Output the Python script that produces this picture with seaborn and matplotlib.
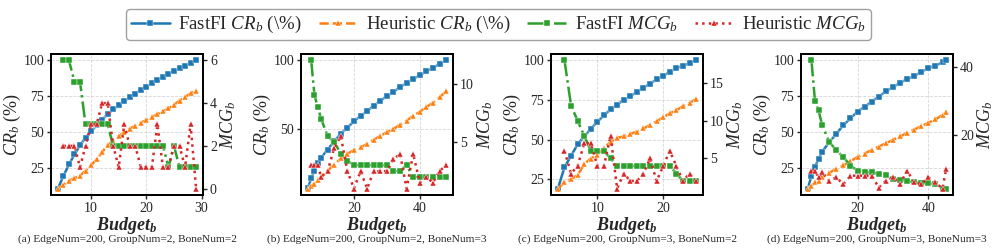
import matplotlib
matplotlib.use("Agg")
import matplotlib.pyplot as plt
import seaborn as sns
import numpy as np

# ---------------- data ----------------
a_x = list(range(4, 30))
a_fast_cr = [10.7, 19.5, 27.5, 34.5, 41, 46, 50.5, 54.8, 58.7, 62.5, 65.8, 68.8, 71.6,
             74.3, 76.9, 79.4, 81.8, 84.1, 86.3, 88.5, 90.6, 92.6, 94.5, 96.4, 98.2, 100]
a_heur_cr = [10.7, 13.5, 16, 18, 19.8, 23, 27, 31, 36, 41, 44, 47, 50, 52.5, 54.5, 56.5,
             58.5, 60.5, 62.5, 64.5, 66.5, 69, 72, 74.5, 77, 79]
a_mx = list(range(5, 30))
a_fast_mcg = [6, 6, 5, 5, 3, 3, 3, 3, 3, 2, 2, 2, 2, 2, 2, 2, 2, 2, 2, 1, 2, 1, 1, 1, 1]
a_heur_mcg = [2, 2, 2, 1, 2, 3, 3, 4, 4, 2, 1, 3, 2, 2, 1, 1, 1, 3, 1, 1, 2, 2, 1, 3, 0]

b_x = [6, 7, 8, 9, 10] + list(range(12, 49, 2))
b_fast_cr = [6.7, 14, 19.5, 25, 29, 35, 41, 46.5, 51, 55.5, 59.5, 63, 67, 70.5, 74, 77,
             80.5, 83.5, 86.5, 89, 92, 94.5, 97.5, 100]
b_heur_cr = [6.5, 8.5, 10, 12.5, 15, 19.5, 24, 28.5, 32, 34.5, 36.5, 39, 42, 45, 47.5, 50,
             53, 56, 59.5, 62.5, 66, 69, 73, 77.5]
b_mx = [7, 8, 9, 10] + list(range(12, 49, 2))
b_fast_mcg = [12, 9, 8, 7, 5.5, 5, 4, 3.4, 3, 3, 3, 3, 3, 3, 2.5, 2.5, 3, 2, 2, 2, 2, 2, 2]
b_heur_mcg = [3, 3, 3, 2, 2.5, 4.5, 5.5, 2.5, 1, 2.5, 1, 2.5, 2.5, 2.5, 3.5, 4, 1, 4, 1.5,
              2, 1.5, 2.5, 3]

c_x = list(range(4, 26))
c_fast_cr = [19, 32.5, 39.7, 47, 52, 56.7, 61.2, 65.3, 69, 72, 75, 77.4, 80, 82.8, 85.3,
             88, 90, 92.9, 95, 96.6, 98.3, 100]
c_heur_cr = [19, 23, 25, 27.5, 34.5, 38, 40.5, 44.5, 48.5, 51, 52, 53.5, 55, 57, 59, 61.5,
             64, 66.5, 68.5, 71, 73, 75.6]
c_mx = list(range(5, 26))
c_fast_mcg = [18, 12, 10, 8, 6, 6, 6, 5, 4, 4, 4, 4, 4, 4, 4, 4, 4, 3, 2, 2, 2]
c_heur_mcg = [6, 3, 4, 7, 7, 4, 4, 8, 1, 3, 2, 2, 3, 5, 2, 4, 6, 4, 2, 3, 2]

d_x = [6, 7, 8, 9, 10] + list(range(12, 45, 2)) + [45]
d_fast_cr = [10.5, 19.5, 25.5, 31.4, 36.2, 42.9, 48.6, 54.8, 59.5, 64.3, 67.6, 71.2, 74.8,
             78.3, 81.4, 84.3, 86.9, 89, 92, 94.5, 96.4, 98.6, 100]
d_heur_cr = [10.5, 12.4, 14.8, 16, 18.3, 21.4, 24.3, 26.7, 29.5, 32.6, 35, 37.4, 39.8,
             42.1, 44.5, 46.9, 49.3, 51.7, 54, 56.4, 58.8, 61.9, 64]
d_mx = [7, 8, 9, 10] + list(range(12, 45, 2)) + [45]
d_fast_mcg = [42, 30, 27.3, 23, 18, 15.5, 13.5, 11, 9.5, 9, 9, 8.5, 8.3, 7, 6.8, 6.5, 6,
              5.8, 5.8, 5.5, 4.2, 4.2]
d_heur_mcg = [9.5, 9.5, 7.5, 9, 6.5, 7.5, 5.5, 8, 8, 8, 8, 4.5, 6.5, 7.5, 5.5, 9.5, 6, 5.5,
              7.5, 6, 4.2, 10]

captions = ["(a) EdgeNum=200, GroupNum=2, BoneNum=2",
            "(b) EdgeNum=200, GroupNum=2, BoneNum=3",
            "(c) EdgeNum=200, GroupNum=3, BoneNum=2",
            "(d) EdgeNum=200, GroupNum=3, BoneNum=3"]
x_ticks = [[10, 20, 30], [20, 40], [10, 20], [20, 40]]
left_ticks = [[25, 50, 75, 100], [50, 100], [25, 50, 75, 100], [25, 50, 75, 100]]
right_ticks = [[0, 2, 4, 6], [5, 10], [5, 10, 15], [20, 40]]
series_labels = [r"FastFI $CR_b$ (\%)", r"Heuristic $CR_b$ (\%)",
                 r"FastFI $MCG_b$", r"Heuristic $MCG_b$"]

panels = [
    (a_x, a_fast_cr, a_heur_cr, a_mx, a_fast_mcg, a_heur_mcg),
    (b_x, b_fast_cr, b_heur_cr, b_mx, b_fast_mcg, b_heur_mcg),
    (c_x, c_fast_cr, c_heur_cr, c_mx, c_fast_mcg, c_heur_mcg),
    (d_x, d_fast_cr, d_heur_cr, d_mx, d_fast_mcg, d_heur_mcg),
]

# ---------------- style ----------------
sns.set_style("ticks")
plt.rcParams["font.family"] = ["Liberation Serif", "DejaVu Serif"]
plt.rcParams["mathtext.fontset"] = "custom"
plt.rcParams["mathtext.rm"] = "Liberation Serif"
plt.rcParams["mathtext.it"] = "Liberation Serif:italic"
plt.rcParams["mathtext.bf"] = "Liberation Serif:bold:italic"
plt.rcParams["axes.edgecolor"] = "black"
plt.rcParams["axes.linewidth"] = 1.3

colors = ["#1f77b4", "#ff7f0e", "#2ca02c", "#d62728"]
styles = [("-", "s"), ("--", "^"), ("-.", "s"), (":", "^")]

fig = plt.figure(figsize=(9.97, 2.49), dpi=100)
W, H = 997.0, 249.0
lefts = [51, 301, 551, 801]
ax_w, ax_b, ax_h = 152, 54, 141

handles = None
for i, (x, fcr, hcr, mx, fm, hm) in enumerate(panels):
    ax = fig.add_axes([lefts[i] / W, ax_b / H, ax_w / W, ax_h / H])
    ax2 = ax.twinx()
    for (xs, ys, a, k) in [(x, fcr, ax, 0), (x, hcr, ax, 1), (mx, fm, ax2, 2), (mx, hm, ax2, 3)]:
        ls, mk = styles[k]
        sns.lineplot(x=xs, y=ys, ax=a, color=colors[k], linestyle=ls, marker=mk,
                     markersize=4.8, markeredgewidth=0.3, linewidth=1.8,
                     label=series_labels[k])
    if handles is None:
        h1, l1 = ax.get_legend_handles_labels()
        h2, l2 = ax2.get_legend_handles_labels()
        handles, labels = h1 + h2, l1 + l2
    for a in (ax, ax2):
        if a.get_legend() is not None:
            a.get_legend().remove()
    ax.set_xticks(x_ticks[i])
    ax.set_yticks(left_ticks[i])
    ax2.set_yticks(right_ticks[i])
    ax.grid(True, linestyle="--", linewidth=0.6, color="#cccccc", alpha=0.8)
    ax.tick_params(labelsize=10, length=3, width=1, pad=2)
    ax2.tick_params(labelsize=10, length=3, width=1, pad=2)
    ax.set_xlabel(r"$\mathbf{Budget_b}$", fontsize=13, labelpad=0)
    ax.set_ylabel(r"$CR_b$ (%)", fontsize=13, labelpad=0)
    ax2.set_ylabel(r"$MCG_b$", fontsize=13, labelpad=1)
    for sp in ax2.spines.values():
        sp.set_linewidth(1.3)
        sp.set_color("black")
    fig.text((lefts[i] + ax_w / 2) / W, 10 / H, captions[i], ha="center", va="center",
             fontsize=8.2)

fig.legend(handles, labels, loc="upper center", bbox_to_anchor=(0.5, 1.0), ncol=4,
           fontsize=13.6, frameon=True, fancybox=True, edgecolor="#888888",
           handlelength=2.05, columnspacing=0.9, borderpad=0.25, handletextpad=0.45)

fig.savefig("out.png", dpi=100)
